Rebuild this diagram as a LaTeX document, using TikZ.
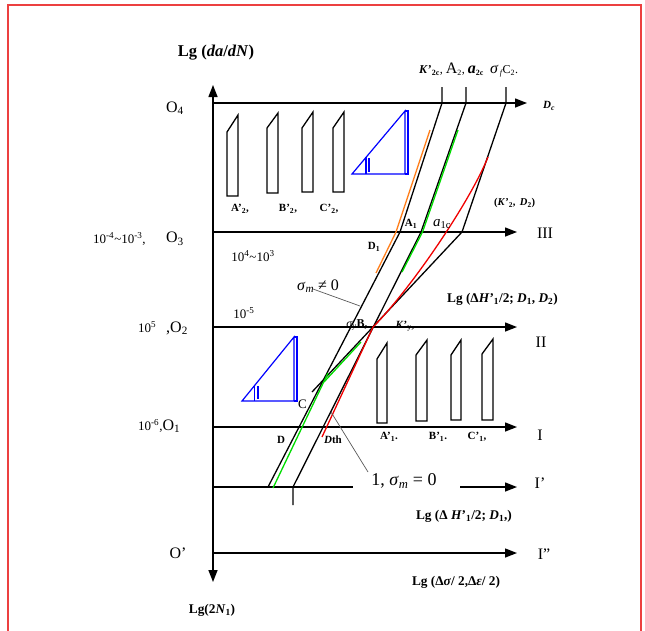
\documentclass[tikz,border=0pt]{standalone}
\usepackage{fontspec}
\setmainfont{Liberation Serif}
\usetikzlibrary{arrows.meta}
\definecolor{frame}{RGB}{236,64,64}
\definecolor{gr}{RGB}{0,220,0}
\definecolor{org}{RGB}{255,128,30}
\definecolor{rd}{RGB}{240,0,0}
\newcommand{\fs}[1]{\fontsize{#1}{#1}\selectfont}
\begin{document}
\begin{tikzpicture}[x=1pt,y=-1pt,
  axline/.style={line width=1.4pt},
  ax/.style={line width=1.4pt,-{Triangle[length=12pt,width=9pt]}},
  axd/.style={line width=1.4pt,{Triangle[length=12pt,width=9pt]}-{Triangle[length=12pt,width=9pt]}},
  crv/.style={line width=1.3pt,line join=round},
  col/.style={line width=1.3pt,line join=round},
  blade/.style={draw,line width=1.3pt,line join=miter},
  tri/.style={draw=blue,line width=1.2pt},
  lead/.style={draw=black!65,line width=0.7pt},
  lbl/.style={inner sep=0pt,font=\fs{13}},
  big/.style={inner sep=0pt,font=\fs{16}},
  bl/.style={inner sep=0pt,font=\fs{11}\bfseries},
  blb/.style={inner sep=0pt,font=\fs{13.3}\bfseries}]
\useasboundingbox (0,0) rectangle (645,630);
% frame
\draw[frame,line width=1.5pt] (8,634) -- (8,5) -- (641,5) -- (641,634);
% axes
\coordinate (vt) at (213,85); \coordinate (vb) at (213,582);
\draw[axd] (vb) -- (vt);
\coordinate (o4) at (213,103); \coordinate (o4e) at (527,103);
\coordinate (o3) at (213,232); \coordinate (o3e) at (517,232);
\coordinate (o2) at (213,327); \coordinate (o2e) at (517,327);
\coordinate (o1) at (213,427); \coordinate (o1e) at (517,427);
\coordinate (p1) at (213,487); \coordinate (p1m) at (353,487);
\coordinate (p1s) at (460,487); \coordinate (p1e) at (517,487);
\coordinate (pp) at (213,553); \coordinate (ppe) at (517,553);
\draw[ax] (o4) -- (o4e);
\draw[ax] (o3) -- (o3e);
\draw[ax] (o2) -- (o2e);
\draw[ax] (o1) -- (o1e);
\draw[axline] (p1) -- (p1m);
\draw[ax] (p1s) -- (p1e);
\draw[ax] (pp) -- (ppe);
% upper blades
\draw[blade] (227,132) -- (238,115) -- (238,196) -- (227,196) -- cycle;
\draw[blade] (267,128) -- (278,113) -- (278,193) -- (267,193) -- cycle;
\draw[blade] (302,128) -- (313,112) -- (313,192) -- (302,192) -- cycle;
\draw[blade] (333,128) -- (344,112) -- (344,192) -- (333,192) -- cycle;
% lower blades
\draw[blade] (377,359) -- (387,343) -- (387,423) -- (377,423) -- cycle;
\draw[blade] (416,355) -- (427,340) -- (427,421) -- (416,421) -- cycle;
\draw[blade] (451,355) -- (461,340) -- (461,420) -- (451,420) -- cycle;
\draw[blade] (482,354) -- (493,339) -- (493,420) -- (482,420) -- cycle;
% blue triangles
\draw[tri] (352,174) -- (405,111) -- (405,174) -- cycle;
\draw[tri] (405,111) -- (408,111) -- (408,174) -- (405,174);
\draw[tri] (366,157) -- (366,174);
\draw[tri] (369,158) -- (369,172);
\draw[tri] (242,401) -- (294,337) -- (294,401) -- cycle;
\draw[tri] (294,337) -- (297,337) -- (297,401) -- (294,401);
\draw[tri] (254.5,385) -- (254.5,401);
\draw[tri] (258,386) -- (258,399);
% main black lines
\coordinate (t1) at (442,87); \coordinate (s1) at (442,103); \coordinate (k1) at (400,232); \coordinate (e1) at (268,487);
\coordinate (t2) at (466,87); \coordinate (s2) at (466,103); \coordinate (k2) at (421,232); \coordinate (e2) at (293,487); \coordinate (f2) at (293,505);
\coordinate (t3) at (506,87); \coordinate (s3) at (506,103); \coordinate (k3) at (462,232); \coordinate (e3) at (312,392);
\coordinate (B) at (373,327);
\draw[crv] (t1) -- (s1) -- (k1) -- (e1);
\draw[crv] (t2) -- (s2) -- (k2) -- (e2) -- (f2);
\draw[crv] (t3) -- (s3) -- (k3) -- (e3);
% colored overlays
\draw[col,org] (430,130) -- (396,232) -- (376,273);
\draw[col,gr] (458,130) -- (422.5,232) -- (402,272);
\draw[col,gr] (328,373) -- (273,488);
\draw[col,gr] (361,342) -- (324,382);
\draw[col,rd] (488,157) .. controls (470,202) and (410,290) .. (B) -- (322,437);
% leader lines
\draw[lead] (313,289) -- (360,306);
\draw[lead] (331,412) -- (368,472);
% labels
\node[inner sep=0pt,font=\fs{16.5}\bfseries] at (216,53) {Lg (\textit{da}/\textit{dN})};
\node[inner sep=0pt,anchor=west,font=\fs{12}] at (419,70) {\textbf{\textit{K}'\textsubscript{2c}}, {\fs{16}A}\textsubscript{2}, {\fs{16}\bfseries\itshape a}\textsubscript{\bfseries 2c}\ \ {\fs{16}\itshape σ}\,\textsubscript{\itshape f}C\textsubscript{2}.};
\node[inner sep=0pt,anchor=west,font=\fs{11}\bfseries\itshape] at (543,106) {D\textsubscript{c}};
\node[big] at (175,108) {O\textsubscript{4}};
\node[bl] at (240,209) {A'\textsubscript{2},};
\node[bl] at (288,209) {B'\textsubscript{2},};
\node[bl] at (329,209) {C'\textsubscript{2},};
\node[inner sep=0pt,anchor=west,font=\fs{10.5}\bfseries] at (494,203) {(\textit{K}'\textsubscript{2},\ \,\textit{D}\textsubscript{2})};
\node[bl] at (411,224) {A\textsubscript{1}};
\node[inner sep=0pt,font=\fs{15}\itshape] at (442,224) {a\textsubscript{\upshape 1c}};
\node[lbl,anchor=west] at (93,239) {10\textsuperscript{-4}\textasciitilde 10\textsuperscript{-3},};
\node[big] at (175,239) {O\textsubscript{3}};
\node[big] at (545,233) {III};
\node[lbl] at (253,256) {10\textsuperscript{4}\textasciitilde 10\textsuperscript{3}};
\node[bl] at (374,247) {D\textsubscript{1}};
\node[inner sep=0pt,font=\fs{16}] at (318,286) {\textit{σ}\textsubscript{\textit{m}} ≠ 0};
\node[blb,anchor=west] at (447,299) {Lg (Δ\textit{H}'\textsubscript{1}/2; \textit{D}\textsubscript{1}, \textit{D}\textsubscript{2})};
\node[lbl] at (244,313) {10\textsuperscript{-5}};
\node[lbl,anchor=west] at (138,327) {10\textsuperscript{5}};
\node[big,anchor=west] at (166,328) {,O\textsubscript{2}};
\node[inner sep=0pt,font=\fs{12}] at (357,325) {\textit{σ}\textsubscript{\textit{y}}\textbf{B,}};
\node[inner sep=0pt,font=\fs{11}\bfseries] at (405,326) {\textit{K}'\textsubscript{y},};
\node[big] at (541,342) {II};
\node[lbl,anchor=west] at (298,404) {C};
\node[lbl,anchor=west] at (138,426) {10\textsuperscript{-6},{\fs{16}O\textsubscript{1}}};
\node[bl] at (281,440) {D};
\node[bl] at (333,440) {\textit{D}th};
\node[bl] at (389,437) {A'\textsubscript{1}.};
\node[bl] at (438,437) {B'\textsubscript{1}.};
\node[bl] at (477,437) {C'\textsubscript{1},};
\node[big] at (540,435) {I};
\node[inner sep=0pt,font=\fs{18}] at (404,481) {1, \textit{σ}\textsubscript{\textit{m}} = 0};
\node[big] at (540,483) {I'};
\node[blb] at (464,516) {Lg (Δ\ \textit{H}'\textsubscript{1}/2; \textit{D}\textsubscript{1},)};
\node[big] at (178,553) {O'};
\node[big] at (544,554) {I''};
\node[blb] at (456,582) {Lg (Δ\textit{σ}/ 2,Δ\textit{ε}/ 2)};
\node[blb] at (212,610) {Lg(2\textit{N}\textsubscript{1})};
\end{tikzpicture}
\end{document}
